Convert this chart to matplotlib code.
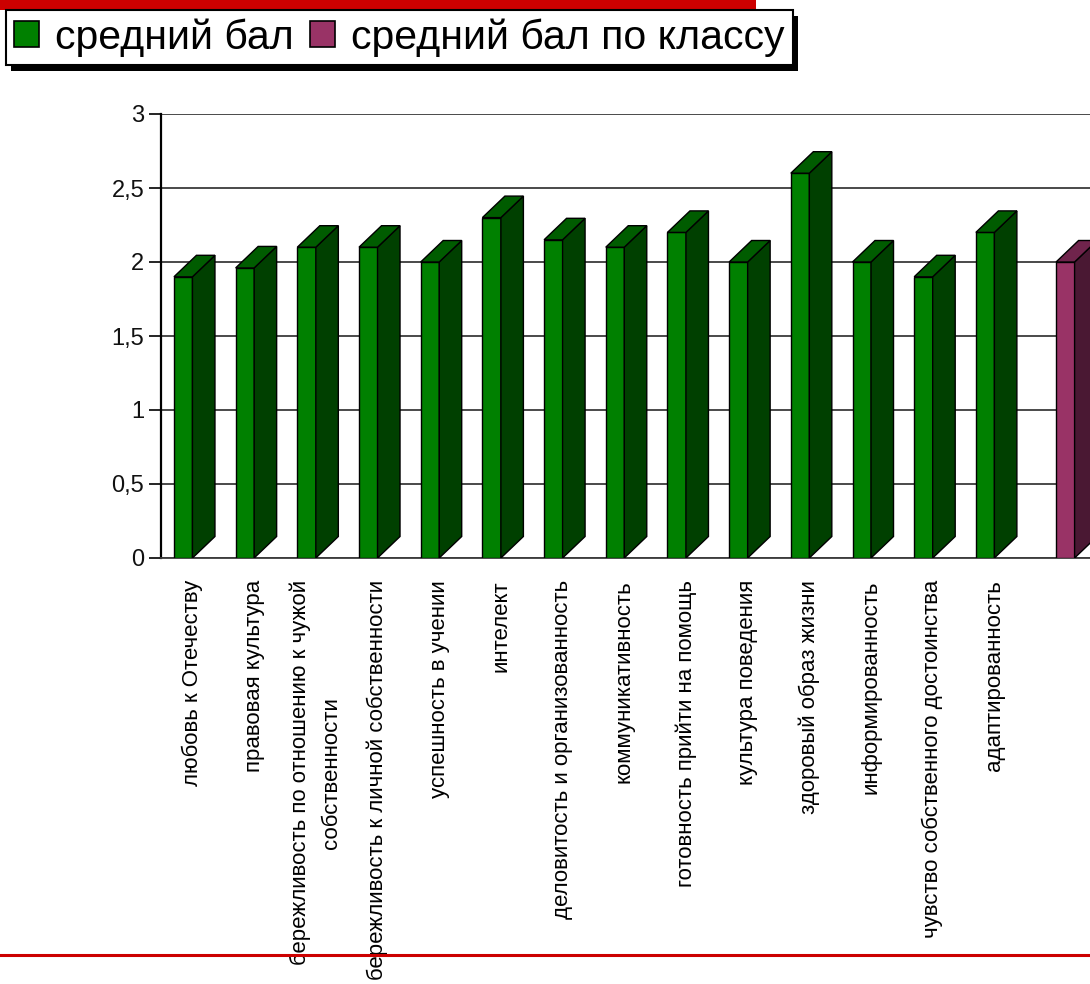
import matplotlib
matplotlib.use("Agg")
import matplotlib.pyplot as plt
from matplotlib.patches import Polygon, Rectangle, Patch
from matplotlib.lines import Line2D
from matplotlib.ticker import FuncFormatter

plt.rcParams['font.family'] = ['Liberation Sans', 'DejaVu Sans']

# ---- data ----
categories = [
    "любовь к Отечеству",
    "правовая культура",
    "бережливость по отношению к чужой\nсобственности",
    "бережливость к личной собственности",
    "успешность в учении",
    "интелект",
    "деловитость и организованность",
    "коммуникативность",
    "готовность прийти на помощь",
    "культура поведения",
    "здоровый образ жизни",
    "информированность",
    "чувство собственного достоинства",
    "адаптированность",
    "",
]
series_names = ["средний бал", "средний бал по классу"]
avg_score = [1.9, 1.96, 2.1, 2.1, 2.0, 2.3, 2.15, 2.1, 2.2, 2.0, 2.6, 2.0, 1.9, 2.2]
class_avg = [2.0]
class_avg_pos = [14]
y_ticks = [0, 0.5, 1, 1.5, 2, 2.5, 3]

# ---- styling ----
W, H, DPI = 1090, 984, 100
green = ("#008000", "#004000", "#005c00")     # front, side, top
maroon = ("#993366", "#4a1833", "#70244c")

fig = plt.figure(figsize=(W / DPI, H / DPI), dpi=DPI)
fig.patch.set_facecolor("white")

ax_left, ax_bottom_px, ax_top_px = 161, 558, 114
ax = fig.add_axes([ax_left / W, 1 - ax_bottom_px / H, (W - ax_left) / W, (ax_bottom_px - ax_top_px) / H])
xmin, xmax = -0.51, 14.55
ymin, ymax = 0, 3
ax.set_xlim(xmin, xmax)
ax.set_ylim(ymin, ymax)

ppx = (W - ax_left) / (xmax - xmin)          # px per x unit
ppy = (ax_bottom_px - ax_top_px) / (ymax - ymin)
dx = 22.5 / ppx
dy = 21.5 / ppy
bw = 0.3


def bar3d(xs, vals, off, cols):
    bars = ax.bar([x + off for x in xs], vals, width=bw, align='edge',
                  color=cols[0], edgecolor='black', linewidth=1.0, zorder=3)
    for rect in bars:
        x0 = rect.get_x()
        x1 = x0 + rect.get_width()
        h = rect.get_height()
        side = Polygon([(x1, 0), (x1 + dx, dy), (x1 + dx, h + dy), (x1, h)], closed=True,
                       facecolor=cols[1], edgecolor='black', linewidth=1.0, zorder=3)
        top = Polygon([(x0, h), (x0 + dx, h + dy), (x1 + dx, h + dy), (x1, h)], closed=True,
                      facecolor=cols[2], edgecolor='black', linewidth=1.0, zorder=3)
        ax.add_patch(side)
        ax.add_patch(top)
    return bars


bar3d(list(range(len(avg_score))), avg_score, -bw, green)
bar3d(class_avg_pos, class_avg, 0.0, maroon)

# grid / axes
ax.set_axisbelow(True)
ax.yaxis.grid(True, color="#3c3c3c", linewidth=1.3)
ax.set_yticks(y_ticks)
ax.yaxis.set_major_formatter(FuncFormatter(lambda v, p: ("%g" % v).replace(".", ",")))
ax.tick_params(axis='y', length=9, width=1.2, color='black', direction='out',
               labelsize=17, pad=3, labelcolor='#111111')
for s in ("top", "right"):
    ax.spines[s].set_visible(False)
ax.spines["left"].set_linewidth(1.6)
ax.spines["left"].set_color("black")
ax.spines["bottom"].set_color("#3c3c3c")
ax.spines["bottom"].set_linewidth(1.3)

ax.set_xticks(list(range(len(categories))))
ax.set_xticklabels(categories, rotation=90, ha='center', va='top', fontsize=16,
                   multialignment='center', linespacing=1.65)
ax.tick_params(axis='x', length=0, pad=16)

# legend
handles = [Patch(facecolor=green[0], edgecolor='black', linewidth=1.2),
           Patch(facecolor=maroon[0], edgecolor='black', linewidth=1.2)]
leg = fig.legend(handles, series_names, loc='upper left',
                 bbox_to_anchor=(6 / W, 1 - 10 / H), bbox_transform=fig.transFigure,
                 ncol=2, frameon=True, fancybox=False, edgecolor='black', framealpha=1,
                 prop={'family': ['Liberation Sans', 'DejaVu Sans'], 'size': 29.5},
                 handlelength=0.6, handleheight=0.6, handletextpad=0.4,
                 columnspacing=0.4, borderpad=0.2, borderaxespad=0)
leg.get_frame().set_linewidth(1.5)
leg.set_zorder(6)

# decorative slide elements
fig.add_artist(Rectangle((0, 1 - 10 / H), 756 / W, 10 / H, transform=fig.transFigure,
                         facecolor="#cc0000", edgecolor='none', zorder=2))
fig.add_artist(Line2D([0, 1], [1 - 955 / H, 1 - 955 / H], transform=fig.transFigure,
                      color="#cc0000", linewidth=2.2, zorder=10))

fig.canvas.draw()
bb = leg.get_window_extent().transformed(fig.transFigure.inverted())
fig.add_artist(Rectangle((bb.x0 + 5 / W, bb.y0 - 6 / H), bb.width, bb.height,
                         transform=fig.transFigure, facecolor='black', edgecolor='none', zorder=5))

fig.savefig("out.png", dpi=DPI, facecolor="white")
